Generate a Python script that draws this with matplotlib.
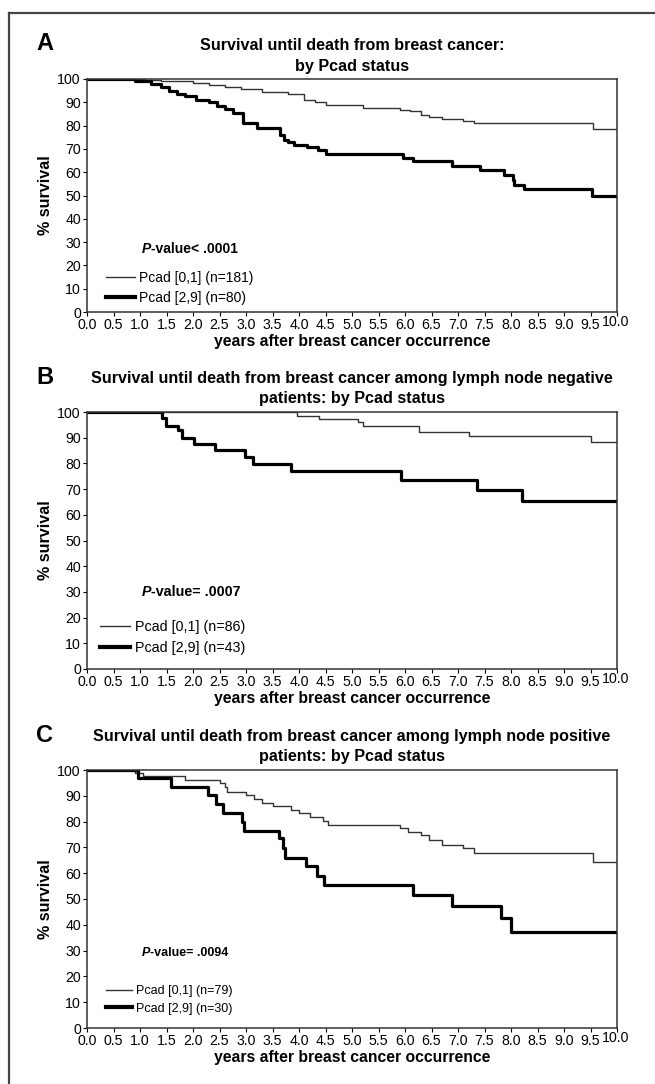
import numpy as np
import matplotlib
matplotlib.use('Agg')
import matplotlib.pyplot as plt
from matplotlib.lines import Line2D
from matplotlib import font_manager
from matplotlib.transforms import ScaledTranslation

plt.rcParams['font.family'] = ['Liberation Sans', 'DejaVu Sans']

# ---- data (years, % survival) ----
ticks_x = np.arange(0, 10.01, 0.5)
ticks_y = np.arange(0, 101, 10)

# panel A: all patients
a_low_t = [0, 1.1, 1.4, 2.0, 2.3, 2.6, 2.9, 3.3, 3.8, 4.1, 4.3, 4.5, 5.2, 5.9, 6.1, 6.3, 6.45, 6.7, 7.1, 7.3, 9.55, 10]
a_low_v = [100, 99.6, 99.2, 98.3, 97.5, 96.6, 95.6, 94.5, 93.4, 91.1, 90.0, 88.8, 87.4, 86.9, 86.3, 84.6, 83.6, 82.8, 82.1, 81.0, 78.4, 78.4]
a_high_t = [0, 0.9, 1.2, 1.4, 1.55, 1.7, 1.85, 2.05, 2.3, 2.45, 2.6, 2.75, 2.95, 3.2, 3.65, 3.72, 3.8, 3.9, 4.15, 4.35, 4.5,
            5.97, 6.16, 6.88, 7.42, 7.86, 8.03, 8.06, 8.25, 9.53, 10]
a_high_v = [100, 99, 98, 96.5, 95, 93.5, 92.5, 91.2, 90, 88.6, 87, 85.3, 81.1, 78.8, 76, 74, 72.8, 71.7, 70.7, 69.5, 67.7,
            66.1, 64.6, 62.7, 60.9, 58.8, 56.6, 54.5, 52.6, 49.9, 49.9]

# panel B: lymph node negative
b_low_t = [0, 3.96, 4.37, 5.12, 5.2, 6.27, 7.21, 9.5, 10]
b_low_v = [100, 98.4, 97.3, 96.0, 94.7, 92.4, 90.7, 88.5, 88.5]
b_high_t = [0, 1.41, 1.49, 1.71, 1.80, 2.02, 2.42, 2.98, 3.13, 3.85, 5.92, 7.36, 8.2, 10]
b_high_v = [100, 97.5, 94.7, 93.0, 90.0, 87.4, 85.2, 82.6, 79.6, 77.0, 73.5, 69.6, 65.4, 65.4]

# panel C: lymph node positive
c_low_t = [0, 0.9, 1.05, 1.85, 2.5, 2.6, 2.65, 3.0, 3.15, 3.3, 3.5, 3.85, 4.0, 4.2, 4.45, 4.55, 5.9, 6.05, 6.3, 6.45,
           6.7, 7.1, 7.3, 9.55, 10]
c_low_v = [100, 98.7, 97.5, 96.2, 94.9, 93.6, 91.5, 90.2, 88.8, 87.2, 85.9, 84.6, 83.3, 81.8, 80.3, 78.8, 77.4, 76.1,
           74.8, 73.0, 71.1, 69.7, 68.0, 64.5, 64.5]
c_high_t = [0, 0.97, 1.58, 2.29, 2.44, 2.56, 2.92, 2.96, 3.63, 3.69, 3.74, 4.14, 4.34, 4.48, 6.15, 6.88, 7.82, 8.0, 10]
c_high_v = [100, 96.8, 93.5, 90.3, 86.8, 83.2, 80, 76.5, 73.5, 69.7, 65.8, 62.6, 59, 55.5, 51.7, 47.4, 42.6, 37.1, 37.1]

# panel C uses a condensed face in the original
installed = {f.name for f in font_manager.fontManager.ttflist}
if 'Liberation Sans Narrow' in installed:
    c_fam, c_fs = ['Liberation Sans Narrow'], 10.5
else:
    c_fam, c_fs = ['Liberation Sans'], 9.0

panels = [
    dict(letter='A', title=['Survival until death from breast cancer:', 'by Pcad status'],
         box=(87, 79, 617, 312), low=(a_low_t, a_low_v), high=(a_high_t, a_high_v),
         pval='-value< .0001', labels=['Pcad [0,1] (n=181)', 'Pcad [2,9] (n=80)'],
         p_xy=(0.103, 0.269), leg_xy=(0.035, 0.177), fs=10, fam=['Liberation Sans'], lsp=0.42),
    dict(letter='B', title=['Survival until death from breast cancer among lymph node negative',
                            'patients: by Pcad status'],
         box=(87, 412, 617, 669), low=(b_low_t, b_low_v), high=(b_high_t, b_high_v),
         pval='-value= .0007', labels=['Pcad [0,1] (n=86)', 'Pcad [2,9] (n=43)'],
         p_xy=(0.103, 0.30), leg_xy=(0.025, 0.19), fs=10.3, fam=['Liberation Sans'], lsp=0.46),
    dict(letter='C', title=['Survival until death from breast cancer among lymph node positive',
                            'patients: by Pcad status'],
         box=(87, 770, 617, 1028), low=(c_low_t, c_low_v), high=(c_high_t, c_high_v),
         pval='-value= .0094', labels=['Pcad [0,1] (n=79)', 'Pcad [2,9] (n=30)'],
         p_xy=(0.103, 0.29), leg_xy=(0.035, 0.166), fs=c_fs, fam=c_fam, lsp=0.45),
]

W, H = 655, 1084
fig = plt.figure(figsize=(W / 100, H / 100), dpi=100)

# outer frame (left and top only)
fig.add_artist(Line2D([9 / W, 9 / W], [0, 1 - 13 / H], color='#444444', lw=1.6))
fig.add_artist(Line2D([9 / W, 1], [1 - 13 / H, 1 - 13 / H], color='#444444', lw=1.6))

for p in panels:
    x0, y0, x1, y1 = p['box']
    ax = fig.add_axes([x0 / W, 1 - y1 / H, (x1 - x0) / W, (y1 - y0) / H])

    ax.step(p['low'][0], p['low'][1], where='post', color='#333333', lw=1.0, label=p['labels'][0])
    ax.step(p['high'][0], p['high'][1], where='post', color='black', lw=2.3, label=p['labels'][1])

    ax.set_xlim(0, 10)
    ax.set_ylim(0, 100)
    ax.set_xticks(ticks_x)
    ax.set_xticklabels(['%.1f' % v for v in ticks_x])
    ax.set_yticks(ticks_y)
    ax.set_yticklabels(['%d' % v for v in ticks_y])
    ax.tick_params(direction='out', length=3, width=0.8, pad=1.5, labelsize=10.2, colors='black')
    # the last label sits a little higher in the original
    last = ax.get_xticklabels()[-1]
    last.set_transform(last.get_transform() + ScaledTranslation(-1 / 72, 2 / 72, fig.dpi_scale_trans))
    for s in ax.spines.values():
        s.set_color('#333333')
        s.set_linewidth(1.1)

    ax.set_xlabel('years after breast cancer occurrence', fontsize=11.3, fontweight='bold', labelpad=1)
    ax.set_ylabel('% survival', fontsize=11.6, fontweight='bold', labelpad=3)

    leg = ax.legend(loc='upper left', bbox_to_anchor=p['leg_xy'], frameon=False, borderpad=0, borderaxespad=0,
                    handlelength=2.1, handletextpad=0.3, labelspacing=p['lsp'],
                    prop={'family': p['fam'], 'size': p['fs']})
    leg.get_lines()[0].set_linewidth(1.0)
    leg.get_lines()[1].set_linewidth(3.0)

    pt = ax.text(p['p_xy'][0], p['p_xy'][1], 'P', transform=ax.transAxes, fontsize=p['fs'], fontweight='bold',
                 style='italic', va='center', ha='left', family=p['fam'])
    ax.annotate(p['pval'], xy=(1, 0.5), xycoords=pt, va='center', ha='left', fontsize=p['fs'],
                fontweight='bold', family=p['fam'])

    cx = (x0 + x1) / 2
    fig.text(cx / W, 1 - (y0 - 33) / H, p['title'][0], ha='center', va='center', fontsize=11.6, fontweight='bold')
    fig.text(cx / W, 1 - (y0 - 13) / H, p['title'][1], ha='center', va='center', fontsize=11.6, fontweight='bold')
    fig.text(36 / W, 1 - (y0 - 35) / H, p['letter'], ha='left', va='center', fontsize=17, fontweight='bold')

fig.savefig('out.png', dpi=100)
